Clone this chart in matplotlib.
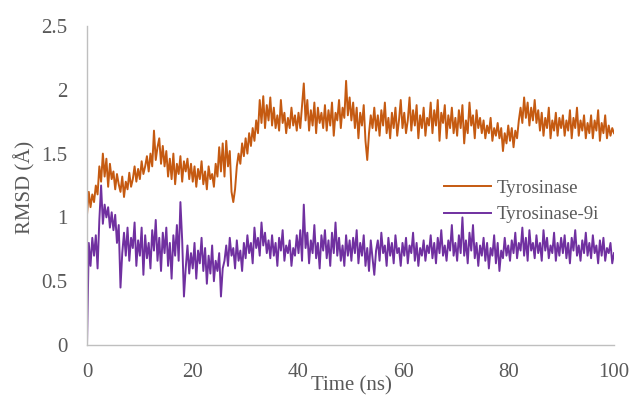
import numpy as np
import matplotlib
matplotlib.use("Agg")
import matplotlib.pyplot as plt

tyrosinase = [
    1.02, 1.20, 1.08, 1.18, 1.12, 1.25, 1.18, 1.40, 1.28, 1.50, 1.32, 1.46, 1.24, 1.42, 1.30,
    1.36, 1.22, 1.34, 1.26, 1.20, 1.32, 1.16, 1.28, 1.22, 1.35, 1.24, 1.30, 1.40, 1.28, 1.38,
    1.30, 1.44, 1.34, 1.40, 1.48, 1.36, 1.50, 1.40, 1.68, 1.45, 1.55, 1.62, 1.42, 1.56, 1.40,
    1.52, 1.32, 1.46, 1.30, 1.50, 1.26, 1.42, 1.34, 1.48, 1.28, 1.44, 1.36, 1.46, 1.30, 1.42,
    1.28, 1.40, 1.24, 1.38, 1.30, 1.44, 1.26, 1.36, 1.22, 1.40, 1.30, 1.34, 1.24, 1.42, 1.32,
    1.55, 1.36, 1.58, 1.32, 1.60, 1.40, 1.52, 1.20, 1.12, 1.22, 1.40, 1.50, 1.42, 1.58, 1.48,
    1.62, 1.50, 1.66, 1.56, 1.70, 1.60, 1.76, 1.66, 1.92, 1.74, 1.95, 1.70, 1.88, 1.76, 1.94,
    1.72, 1.86, 1.70, 1.80, 1.68, 1.92, 1.74, 1.82, 1.66, 1.78, 1.70, 1.86, 1.72, 1.80, 1.68,
    1.82, 1.70, 1.88, 2.05, 1.76, 1.92, 1.68, 1.84, 1.72, 1.90, 1.66, 1.86, 1.74, 1.82, 1.70,
    1.88, 1.68, 1.84, 1.72, 1.90, 1.64, 1.82, 1.76, 1.92, 1.70, 1.86, 1.78, 2.07, 1.80, 1.94,
    1.76, 1.90, 1.70, 1.86, 1.62, 1.82, 1.72, 1.88, 1.60, 1.45, 1.66, 1.80, 1.70, 1.86, 1.68,
    1.80, 1.64, 1.84, 1.72, 1.90, 1.66, 1.78, 1.62, 1.82, 1.70, 1.86, 1.64, 1.76, 1.92, 1.70,
    1.82, 1.66, 1.76, 1.94, 1.68, 1.84, 1.72, 1.88, 1.62, 1.80, 1.70, 1.86, 1.64, 1.78, 1.72,
    1.90, 1.66, 1.84, 1.72, 1.92, 1.60, 1.82, 1.74, 1.88, 1.62, 1.80, 1.70, 1.86, 1.66, 1.78,
    1.64, 1.84, 1.70, 1.88, 1.58, 1.76, 1.66, 1.90, 1.72, 1.80, 1.62, 1.84, 1.70, 1.78, 1.66,
    1.76, 1.62, 1.72, 1.66, 1.78, 1.60, 1.70, 1.64, 1.74, 1.62, 1.70, 1.52, 1.66, 1.58, 1.72,
    1.60, 1.70, 1.55, 1.68, 1.62, 1.76, 1.86, 1.74, 1.94, 1.78, 1.90, 1.72, 1.86, 1.76, 1.92,
    1.74, 1.84, 1.68, 1.82, 1.64, 1.78, 1.70, 1.86, 1.62, 1.76, 1.68, 1.82, 1.64, 1.78, 1.70,
    1.80, 1.64, 1.76, 1.68, 1.84, 1.62, 1.78, 1.70, 1.86, 1.64, 1.76, 1.68, 1.80, 1.62, 1.74,
    1.66, 1.80, 1.62, 1.76, 1.68, 1.84, 1.60, 1.74, 1.66, 1.80, 1.62, 1.72, 1.64, 1.70, 1.66,
]

tyrosinase_9i = [
    0.00, 0.80, 0.62, 0.84, 0.70, 0.86, 0.60, 0.98, 1.25, 0.95, 1.10, 1.00, 1.08, 0.92, 1.04,
    0.90, 1.02, 0.80, 0.94, 0.45, 0.72, 0.88, 0.70, 0.92, 0.66, 0.84, 0.76, 0.96, 0.62, 0.82,
    0.70, 0.92, 0.55, 0.86, 0.68, 0.80, 0.60, 0.90, 0.74, 0.98, 0.66, 0.84, 0.58, 0.88, 0.72,
    0.92, 0.62, 0.80, 0.52, 0.86, 0.70, 0.94, 0.66, 1.12, 0.82, 0.38, 0.60, 0.78, 0.56, 0.72,
    0.60, 0.80, 0.52, 0.74, 0.64, 0.84, 0.58, 0.76, 0.48, 0.70, 0.56, 0.78, 0.50, 0.66, 0.58,
    0.72, 0.38, 0.60, 0.66, 0.78, 0.62, 0.84, 0.70, 0.76, 0.60, 0.82, 0.66, 0.74, 0.58, 0.80,
    0.68, 0.86, 0.72, 0.80, 0.64, 0.92, 0.76, 0.84, 0.70, 0.96, 0.78, 0.88, 0.72, 0.82, 0.68,
    0.86, 0.70, 0.80, 0.62, 0.84, 0.74, 0.90, 0.66, 0.78, 0.72, 0.82, 0.62, 0.76, 0.70, 0.86,
    0.72, 0.90, 0.66, 1.10, 0.76, 0.88, 0.64, 0.82, 0.72, 0.94, 0.68, 0.80, 0.60, 0.86, 0.74,
    0.90, 0.68, 0.82, 0.62, 0.88, 0.72, 0.96, 0.70, 0.84, 0.66, 0.78, 0.62, 0.86, 0.70, 0.82,
    0.66, 0.84, 0.72, 0.90, 0.64, 0.80, 0.70, 0.86, 0.62, 0.76, 0.58, 0.82, 0.68, 0.55, 0.74,
    0.82, 0.66, 0.88, 0.72, 0.78, 0.62, 0.84, 0.70, 0.80, 0.64, 0.86, 0.72, 0.76, 0.62, 0.80,
    0.70, 0.84, 0.64, 0.78, 0.72, 0.88, 0.66, 0.80, 0.62, 0.76, 0.70, 0.82, 0.66, 0.78, 0.72,
    0.86, 0.68, 0.80, 0.64, 0.84, 0.72, 0.90, 0.70, 0.78, 0.66, 0.82, 0.74, 0.94, 0.70, 0.80,
    0.66, 0.86, 0.72, 1.00, 0.70, 0.82, 0.64, 0.88, 0.74, 0.94, 0.68, 0.80, 0.62, 0.78, 0.70,
    0.84, 0.66, 0.80, 0.60, 0.76, 0.70, 0.86, 0.64, 0.80, 0.58, 0.74, 0.68, 0.84, 0.70, 0.78,
    0.66, 0.82, 0.72, 0.88, 0.68, 0.80, 0.74, 0.92, 0.70, 0.84, 0.66, 0.90, 0.74, 0.80, 0.68,
    0.86, 0.72, 0.80, 0.66, 0.90, 0.74, 0.84, 0.68, 0.78, 0.72, 0.88, 0.66, 0.80, 0.70, 0.84,
    0.72, 0.86, 0.68, 0.80, 0.64, 0.84, 0.74, 0.90, 0.70, 0.78, 0.66, 0.82, 0.72, 0.88, 0.70,
    0.80, 0.68, 0.86, 0.72, 0.78, 0.64, 0.82, 0.70, 0.84, 0.66, 0.76, 0.72, 0.80, 0.64, 0.72,
]

x_ticks = [0, 20, 40, 60, 80, 100]
y_ticks = [0, 0.5, 1, 1.5, 2, 2.5]
y_tick_labels = ["0", "0.5", "1", "1.5", "2", "2.5"]
series_names = ["Tyrosinase", "Tyrosinase-9i"]

t_a = np.linspace(0, 100, len(tyrosinase))
t_b = np.linspace(0, 100, len(tyrosinase_9i))

plt.rcParams['font.family'] = ['Liberation Serif', 'DejaVu Serif']
gray = '#595959'

fig = plt.figure(figsize=(6.32, 3.97), dpi=100)
ax = fig.add_axes([87/632, 1-345/397, (614-87)/632, (345-26)/397])

l1, = ax.plot(t_a, tyrosinase, color='#C55A11', lw=1.4, label=series_names[0])
l2, = ax.plot(t_b, tyrosinase_9i, color='#7030A0', lw=1.4, label=series_names[1])

ax.set_xlim(0, 100)
ax.set_ylim(0, 2.5)
ax.set_xticks(x_ticks)
ax.set_yticks(y_ticks)
ax.set_yticklabels(y_tick_labels)
ax.tick_params(length=0, labelsize=15, colors=gray)
ax.tick_params(axis='x', pad=13)
ax.tick_params(axis='y', pad=14)
for s in ['top', 'right']:
    ax.spines[s].set_visible(False)
for s in ['left', 'bottom']:
    ax.spines[s].set_color('#BFBFBF')
    ax.spines[s].set_linewidth(1.0)

fig.text(351/632, 1-390/397, "Time (ns)", ha='center', va='baseline', fontsize=15, color=gray)
fig.text(25/632, 1-187/397, "RMSD (Å)", ha='center', va='center', rotation=90, fontsize=15, color=gray)

leg = ax.legend(handles=[l1, l2], loc='upper left', bbox_to_anchor=((436-87)/527, (345-172)/319),
                frameon=False, fontsize=13.6, handlelength=2.5, handletextpad=0.3,
                labelspacing=0.5, borderaxespad=0)
for txt in leg.get_texts():
    txt.set_color(gray)

fig.savefig("out.png", dpi=100)
